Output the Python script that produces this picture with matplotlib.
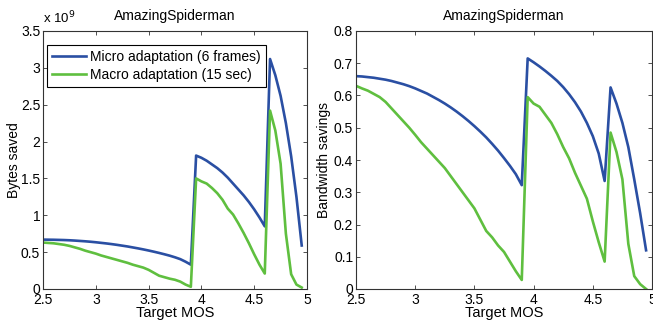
import numpy as np
import matplotlib
matplotlib.use("Agg")
import matplotlib.pyplot as plt

plt.rcParams['font.family'] = ['Liberation Sans', 'DejaVu Sans']

# Target MOS sample points
mos = [2.5, 2.55, 2.6, 2.65, 2.7, 2.75, 2.8, 2.85, 2.9, 2.95,
       3.0, 3.05, 3.1, 3.15, 3.2, 3.25, 3.3, 3.35, 3.4, 3.45,
       3.5, 3.55, 3.6, 3.65, 3.7, 3.75, 3.8, 3.85, 3.9, 3.95,
       4.0, 4.05, 4.1, 4.15, 4.2, 4.25, 4.3, 4.35, 4.4, 4.45,
       4.5, 4.55, 4.6, 4.65, 4.7, 4.75, 4.8, 4.85, 4.9, 4.95]

# Bytes saved (x 1e9)
bytes_micro = [0.670, 0.669, 0.668, 0.666, 0.664, 0.661, 0.657, 0.652, 0.647, 0.641,
               0.634, 0.626, 0.618, 0.609, 0.599, 0.588, 0.577, 0.564, 0.551, 0.537,
               0.522, 0.506, 0.489, 0.471, 0.452, 0.430, 0.405, 0.370, 0.330, 1.81,
               1.78, 1.74, 1.69, 1.64, 1.58, 1.51, 1.43, 1.35, 1.27, 1.18,
               1.08, 0.97, 0.85, 3.12, 2.90, 2.62, 2.25, 1.80, 1.25, 0.59]
bytes_macro = [0.63, 0.625, 0.62, 0.61, 0.60, 0.585, 0.565, 0.545, 0.52, 0.50,
               0.48, 0.455, 0.435, 0.415, 0.395, 0.375, 0.355, 0.33, 0.31, 0.29,
               0.26, 0.22, 0.18, 0.16, 0.14, 0.125, 0.10, 0.06, 0.03, 1.50,
               1.46, 1.43, 1.37, 1.30, 1.21, 1.09, 1.01, 0.89, 0.76, 0.62,
               0.47, 0.33, 0.21, 2.42, 2.15, 1.70, 0.75, 0.20, 0.06, 0.02]

# Bandwidth savings (fraction)
bw_micro = [0.660, 0.659, 0.657, 0.655, 0.652, 0.649, 0.645, 0.640, 0.635, 0.629,
            0.622, 0.614, 0.606, 0.596, 0.586, 0.575, 0.563, 0.550, 0.536, 0.521,
            0.505, 0.488, 0.470, 0.450, 0.429, 0.406, 0.382, 0.356, 0.322, 0.715,
            0.703, 0.690, 0.676, 0.661, 0.645, 0.626, 0.604, 0.579, 0.550, 0.515,
            0.474, 0.420, 0.335, 0.625, 0.575, 0.515, 0.44, 0.34, 0.235, 0.12]
bw_macro = [0.63, 0.622, 0.615, 0.605, 0.595, 0.58, 0.56, 0.54, 0.52, 0.50,
            0.478, 0.455, 0.435, 0.415, 0.395, 0.375, 0.35, 0.325, 0.30, 0.275,
            0.25, 0.215, 0.18, 0.16, 0.135, 0.115, 0.085, 0.055, 0.028, 0.595,
            0.575, 0.565, 0.54, 0.515, 0.48, 0.44, 0.405, 0.36, 0.32, 0.28,
            0.21, 0.145, 0.085, 0.485, 0.425, 0.34, 0.14, 0.04, 0.015, 0.0]

labels = ["Micro adaptation (6 frames)", "Macro adaptation (15 sec)"]
title = "AmazingSpiderman"
blue = "#2a4fa3"
green = "#5fbf3f"

fig = plt.figure(figsize=(6.53, 3.25), dpi=100)
ax1 = fig.add_axes([43/653, 1-289/325, (307-43)/653, (289-31)/325])
ax2 = fig.add_axes([356/653, 1-289/325, (652-356)/653, (289-31)/325])

x = np.array(mos)
ax1.plot(x, np.array(bytes_micro) * 1e9, color=blue, lw=1.9, label=labels[0])
ax1.plot(x, np.array(bytes_macro) * 1e9, color=green, lw=1.9, label=labels[1])
ax2.plot(x, bw_micro, color=blue, lw=1.9)
ax2.plot(x, bw_macro, color=green, lw=1.9)

fs = 10
for ax in (ax1, ax2):
    ax.set_xlim(2.5, 5)
    ax.set_xticks([2.5, 3, 3.5, 4, 4.5, 5])
    ax.set_xticklabels(["2.5", "3", "3.5", "4", "4.5", "5"])
    ax.tick_params(direction='in', top=True, right=True, labelsize=fs, length=3,
                   width=0.6, color='#333333')
    ax.tick_params(axis='x', pad=3)
    ax.tick_params(axis='y', pad=2)
    for s in ax.spines.values():
        s.set_linewidth(0.8)
        s.set_color('#333333')
    ax.set_title(title, fontsize=10, pad=8)
    ax.set_xlabel("Target MOS", fontsize=10.5, labelpad=-1)

ax1.set_ylim(0, 3.5e9)
ax1.set_yticks(np.arange(0, 3.51e9, 0.5e9))
ax1.set_yticklabels(["0", "0.5", "1", "1.5", "2", "2.5", "3", "3.5"])
ax1.set_ylabel("Bytes saved", fontsize=10, labelpad=0)
ax1.text(0.0, 1.02, r"x 10$^{9}$", transform=ax1.transAxes, fontsize=9.5,
         ha='left', va='bottom')

ax2.set_ylim(0, 0.8)
ax2.set_yticks(np.arange(0, 0.81, 0.1))
ax2.set_yticklabels(["0", "0.1", "0.2", "0.3", "0.4", "0.5", "0.6", "0.7", "0.8"])
ax2.set_ylabel("Bandwidth savings", fontsize=10, labelpad=2)

leg = ax1.legend(loc='upper left', bbox_to_anchor=(0.015, 0.946), fontsize=10,
                 fancybox=False, edgecolor='black', framealpha=1, borderaxespad=0,
                 handlelength=2.45, borderpad=0.35, labelspacing=0.3, handletextpad=0.3)
leg.get_frame().set_linewidth(0.8)

fig.savefig("out.png", dpi=100)
